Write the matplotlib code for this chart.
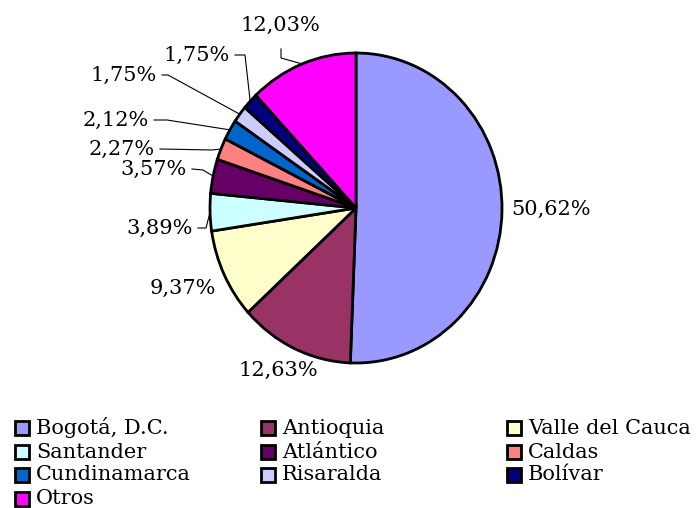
import numpy as np
import matplotlib.pyplot as plt
from matplotlib.patches import Rectangle

# data
departamentos = ["Bogotá, D.C.", "Antioquia", "Valle del Cauca", "Santander",
                 "Atlántico", "Caldas", "Cundinamarca", "Risaralda",
                 "Bolívar", "Otros"]
porcentajes = [50.62, 12.63, 9.37, 3.89, 3.57, 2.27, 2.12, 1.75, 1.75, 12.03]
colores = ["#9999FF", "#993366", "#FFFFCC", "#CCFFFF", "#660066",
           "#FF8080", "#0066CC", "#CCCCFF", "#000080", "#FF00FF"]

W, H = 697, 508
CX, CY, RX, RY = 356, 208, 146, 155   # pie centre / radii in pixels


def px(x, y):
    # pixel (top-left origin) -> data coords of the pie axes
    return (x - CX) / RX, (CY - y) / RY


# label layout: (text x, text y, ha, elbow x or None, elbow y)
label_pos = [
    (551, 209, "center", None, None),
    (278, 370, "center", None, None),
    (183, 288, "center", None, None),
    (193, 228, "right", 206, 228),
    (187, 169, "right", 203, 170),
    (155, 149, "right", 212, 150),
    (149, 120, "right", 167, 120),
    (157, 75, "right", 168, 75),
    (230, 55, "right", 245, 55),
    (280, 25, "center", 281, 58),
]

plt.rcParams['font.family'] = ['DejaVu Serif']

fig = plt.figure(figsize=(W / 100, H / 100), dpi=100)
ax = fig.add_axes([0, 0, 1, 1])

wedges, _ = ax.pie(porcentajes, colors=colores, startangle=90, counterclock=False,
                   wedgeprops=dict(edgecolor="black", linewidth=2))
ax.set_aspect("auto")
x0, y1 = px(0, 0)
x1, y0 = px(W, H)
ax.set_xlim(x0, x1)
ax.set_ylim(y0, y1)
ax.axis("off")

for w, p, (tx, ty, ha, ex, ey) in zip(wedges, porcentajes, label_pos):
    txt = f"{p:.2f}%".replace(".", ",")
    x, y = px(tx, ty)
    ax.text(x, y, txt, ha=ha, va="center", fontsize=15)
    if ex is None:
        continue
    mid = np.deg2rad((w.theta1 + w.theta2) / 2)
    edge = (np.cos(mid), np.sin(mid))
    if ha == "right":
        sx, sy = px(tx + 5, ty)
    else:
        sx, sy = px(tx + 1, ty + 24)
    elx, ely = px(ex, ey)
    ax.plot([sx, elx, edge[0]], [sy, ely, edge[1]], color="black", lw=0.8)

# legend: three columns, filled row-wise, equal row heights
col_x = [15, 261, 507]
row_y = [428, 452, 475, 499]
box = 14
for i, (nombre, c) in enumerate(zip(departamentos, colores)):
    r, k = divmod(i, 3)
    bx, by = col_x[k], row_y[r]
    fig.add_artist(Rectangle((bx, H - by - box / 2), box, box, facecolor=c,
                             edgecolor="black", linewidth=2,
                             transform=None))
    fig.text((bx + box + 7) / W, 1 - by / H, nombre, ha="left", va="center",
             fontsize=15)

fig.savefig("out.png", dpi=100)
